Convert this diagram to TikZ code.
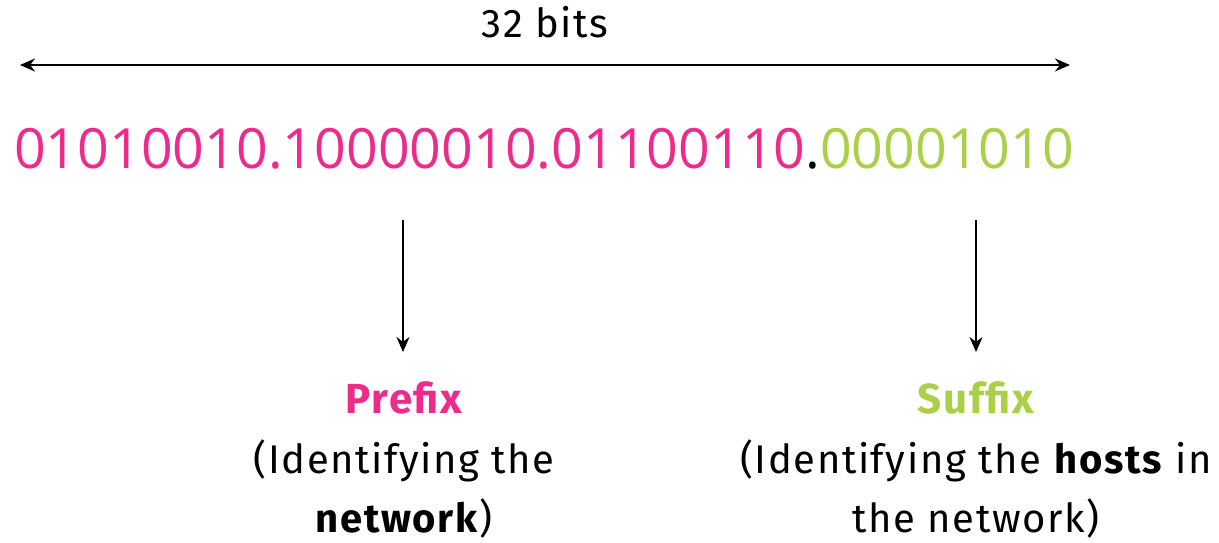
\documentclass[tikz,border=0pt]{standalone}
\usepackage{fontspec}
\setmainfont{Fira Sans}[LetterSpace=4]
\newfontfamily\digitfont{Open Sans}
\usetikzlibrary{arrows.meta}
\definecolor{prefixpink}{HTML}{EE2A8B}
\definecolor{suffixgreen}{HTML}{A9D046}
\tikzset{
  span/.style={line width=2.2pt, {Stealth[length=15pt,width=13pt]}-{Stealth[length=15pt,width=13pt]}},
  pointer/.style={line width=2pt, -{Stealth[length=15pt,width=13pt]}},
  label/.style={font=\fontsize{40}{59}\selectfont, align=center, inner sep=0pt},
  title/.style={font=\fontsize{42}{48}\selectfont\bfseries, inner sep=0pt},
}
\begin{document}
\begin{tikzpicture}[x=1pt,y=-1pt]
  \useasboundingbox (0,0) rectangle (1219,543);
  % total width of the address
  \node[label, anchor=base] (bits) at (545,38) {32 bits};
  \coordinate (spanL) at (20,65);
  \coordinate (spanR) at (1070,65);
  \draw[span] (spanL) -- (spanR);
  % the address itself
  \node[inner sep=0pt, anchor=base west, font=\fontsize{55.5}{60}\selectfont\digitfont] (addr) at (14,168)
    {\textcolor{prefixpink}{01010010.10000010.01100110}.\textcolor{suffixgreen}{00001010}};
  % pointers to the two parts
  \coordinate (pTop) at (403,220);
  \coordinate (pBot) at (403,352);
  \coordinate (sTop) at (976,220);
  \coordinate (sBot) at (976,352);
  \draw[pointer] (pTop) -- (pBot);
  \draw[pointer] (sTop) -- (sBot);
  % descriptions
  \node[title, text=prefixpink, anchor=base] (prefix) at (404,413) {Prefix};
  \node[label, anchor=base] (pdesc) at (404,532) {(Identifying the\\\textbf{network})};
  \node[title, text=suffixgreen, anchor=base] (suffix) at (976,413) {Suffix};
  \node[label, anchor=base] (sdesc) at (976,532) {(Identifying the \textbf{hosts} in\\the network)};
\end{tikzpicture}
\end{document}
